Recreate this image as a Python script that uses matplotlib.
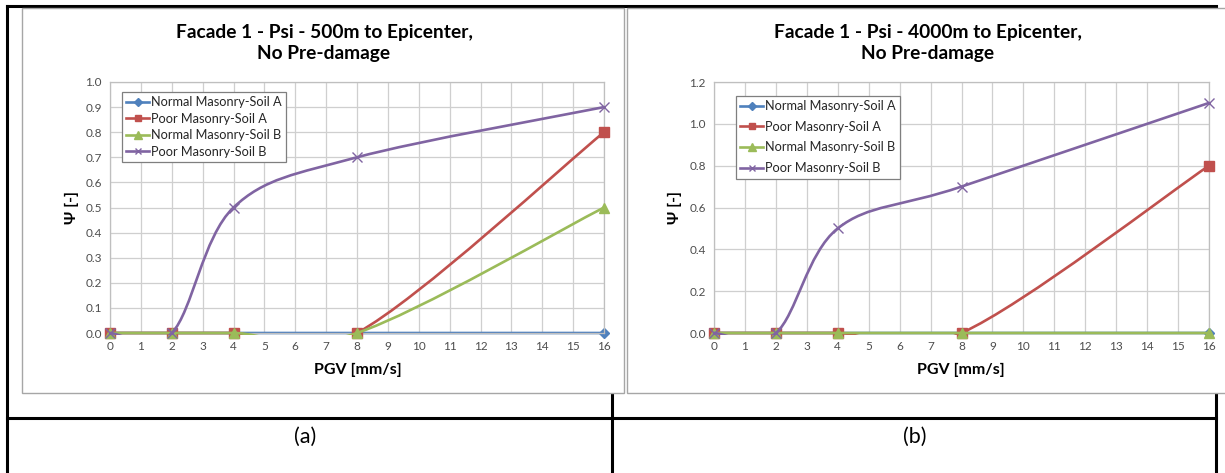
import numpy as np
import matplotlib
matplotlib.use("Agg")
import matplotlib.pyplot as plt
from matplotlib.path import Path
from matplotlib.patches import PathPatch, Rectangle
from matplotlib.lines import Line2D

plt.rcParams['font.family'] = ['Lato', 'DejaVu Sans']

# data
pgv = [0, 2, 4, 8, 16]
series_names = ["Normal Masonry-Soil A", "Poor Masonry-Soil A",
                "Normal Masonry-Soil B", "Poor Masonry-Soil B"]
psi_500 = [
    [0, 0, 0, 0, 0],
    [0, 0, 0, 0, 0.8],
    [0, 0, 0, 0, 0.5],
    [0, 0, 0.5, 0.7, 0.9],
]
psi_4000 = [
    [0, 0, 0, 0, 0],
    [0, 0, 0, 0, 0.8],
    [0, 0, 0, 0, 0],
    [0, 0, 0.5, 0.7, 1.1],
]
titles = ["Facade 1 - Psi - 500m to Epicenter,\nNo Pre-damage",
          "Facade 1 - Psi - 4000m to Epicenter,\nNo Pre-damage"]
captions = ["(a)", "(b)"]

colors = ["#4F81BD", "#C0504D", "#9BBB59", "#8064A2"]
markers = ["D", "s", "^", "x"]
msizes = [5.5, 6.5, 7, 6.5]

W, H = 1225, 473
fig = plt.figure(figsize=(W / 100, H / 100), dpi=100)


def fx(x):
    return x / W


def fy(y):
    return 1 - y / H


def smooth_path(xs, ys):
    # excel style smoothed line: bezier segments through the data points
    P = np.column_stack([xs, ys]).astype(float)
    E = np.vstack([P[0], P, P[-1]])
    verts = [P[0]]
    codes = [Path.MOVETO]
    for i in range(len(P) - 1):
        p0, p1, p2, p3 = E[i], E[i + 1], E[i + 2], E[i + 3]
        verts += [p1 + (p2 - p0) / 6, p2 - (p3 - p1) / 6, p2]
        codes += [Path.CURVE4] * 3
    return Path(verts, codes)


# table lines
tl = dict(color="black", lw=2.2, transform=fig.transFigure, zorder=-3)
fig.add_artist(Line2D([fx(7), fx(1216)], [fy(6), fy(6)], **tl))
fig.add_artist(Line2D([fx(7), fx(7)], [fy(6), fy(473)], **tl))
fig.add_artist(Line2D([fx(1216), fx(1216)], [fy(393), fy(473)], **tl))
fig.add_artist(Line2D([fx(612), fx(612)], [fy(393), fy(473)], **tl))
fig.add_artist(Line2D([fx(7), fx(1216)], [fy(418), fy(418)], **tl))

# chart frames
frames = [(22, 624), (627, 1235)]
for x0, x1 in frames:
    fig.add_artist(Rectangle((fx(x0), fy(393)), fx(x1 - x0), (393 - 8) / H,
                             transform=fig.transFigure, facecolor="white",
                             edgecolor="#a6a6a6", lw=1.0, zorder=-2))

axes_px = [(110, 604), (714, 1209)]
ylims = [(1.0, 0.1), (1.2, 0.2)]
title_x = [324, 928]
xlab_x = [358, 961]
ylab_x = [72, 675]
leg_pos = [(0.024, 0.962), (0.044, 0.946)]
leg_space = [0.36, 0.68]
caption_x = [305, 915]

for k, data in enumerate([psi_500, psi_4000]):
    l, r = axes_px[k]
    ax = fig.add_axes([fx(l), fy(333), fx(r - l), (333 - 82) / H])
    ax.set_facecolor("none")
    ymax, ystep = ylims[k]
    ax.set_xlim(0, 16)
    ax.set_ylim(0, ymax)
    ax.set_xticks(range(0, 17))
    ax.set_yticks(np.round(np.arange(0, ymax + ystep / 2, ystep), 1))
    ax.yaxis.set_major_formatter(plt.FormatStrFormatter("%.1f"))
    ax.grid(True, color="#cfcfcf", lw=0.9)
    ax.set_axisbelow(True)
    for s in ax.spines.values():
        s.set_color("#bfbfbf")
        s.set_linewidth(0.9)
    ax.tick_params(length=0, labelsize=8.5, labelcolor="#4d4d4d", pad=6)

    clip = Rectangle((-0.01, -0.007), 1.02, 1.014, transform=ax.transAxes)
    handles = []
    for i, ys in enumerate(data):
        patch = PathPatch(smooth_path(pgv, ys), fill=False, edgecolor=colors[i],
                          lw=1.9, zorder=2 + i, capstyle="round")
        ax.add_patch(patch)
        patch.set_clip_path(clip)
        ax.plot(pgv, ys, ls="none", marker=markers[i], ms=msizes[i],
                color=colors[i], mew=1.0, clip_on=False, zorder=2.5 + i)
        handles.append(Line2D([], [], color=colors[i], lw=1.9,
                              marker=markers[i], ms=msizes[i] - 1.5, mew=1.0))

    leg = ax.legend(handles, series_names, loc="upper left",
                    bbox_to_anchor=leg_pos[k], fontsize=9.2, frameon=True,
                    fancybox=False, framealpha=1, edgecolor="#7f7f7f",
                    handlelength=1.8, handletextpad=0.1, labelspacing=leg_space[k],
                    borderpad=0.35, borderaxespad=0)
    leg.get_frame().set_linewidth(0.9)
    for t in leg.get_texts():
        t.set_color("#262626")

    fig.text(fx(title_x[k]), fy(43), titles[k], ha="center", va="center",
             fontsize=13.8, fontweight="bold", linespacing=1.3)
    fig.text(fx(xlab_x[k]), fy(370), "PGV [mm/s]", ha="center", va="center",
             fontsize=11.5, fontweight="bold")
    fig.text(fx(ylab_x[k]), fy(208), "Ψ [-]", ha="center", va="center",
             fontsize=11.5, fontweight="bold", rotation=90)
    fig.text(fx(caption_x[k]), fy(437), captions[k], ha="center", va="center",
             fontsize=15.5)

fig.savefig("out.png", dpi=100)
